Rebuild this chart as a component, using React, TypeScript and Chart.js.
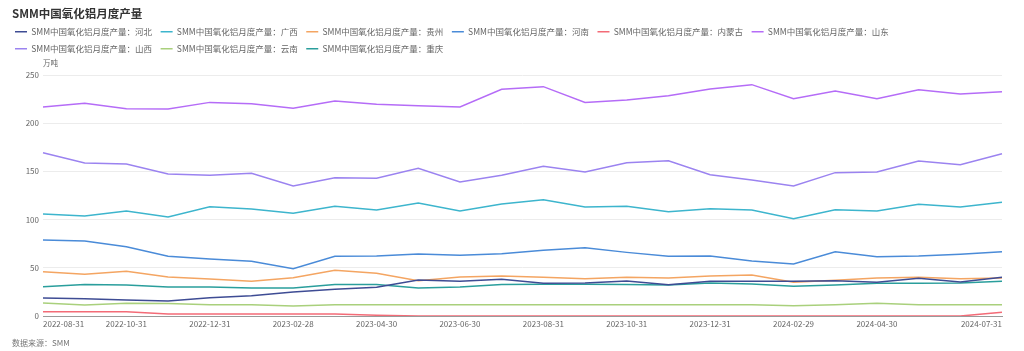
import React, { useEffect, useRef } from 'react';
import { Chart, registerables } from 'chart.js';

Chart.register(...registerables);

const FONT = "'Noto Sans CJK SC', 'Noto Sans', sans-serif";

const TITLE = 'SMM中国氧化铝月度产量';
const UNIT = '万吨';
const SOURCE = '数据来源：SMM';

const dates = [
  '2022-08-31', '2022-09-30', '2022-10-31', '2022-11-30', '2022-12-31', '2023-01-31',
  '2023-02-28', '2023-03-31', '2023-04-30', '2023-05-31', '2023-06-30', '2023-07-31',
  '2023-08-31', '2023-09-30', '2023-10-31', '2023-11-30', '2023-12-31', '2024-01-31',
  '2024-02-29', '2024-03-31', '2024-04-30', '2024-05-31', '2024-06-30', '2024-07-31',
];

const shownTickIndexes = [0, 2, 4, 6, 8, 10, 12, 14, 16, 18, 20, 23];

const yTicks = { min: 0, max: 250, step: 50 };

const hebei = [18.7, 18.0, 16.6, 15.6, 19.0, 21.1, 24.9, 27.7, 29.8, 37.3, 36.0, 38.0, 33.9, 34.2, 36.3, 32.5, 36.0, 36.0, 36.0, 36.6, 34.9, 39.1, 35.3, 40.1];
const guangxi = [105.8, 103.7, 108.9, 102.7, 113.4, 111.0, 106.5, 113.8, 110.0, 117.2, 108.9, 116.2, 120.6, 113.1, 113.8, 108.2, 111.3, 110.0, 100.9, 110.3, 108.9, 115.9, 113.1, 117.9];
const guizhou = [46.0, 43.2, 46.3, 40.5, 38.4, 36.0, 39.7, 47.4, 44.3, 36.6, 40.5, 41.5, 40.1, 38.7, 40.1, 39.4, 41.5, 42.5, 34.9, 37.0, 39.4, 40.1, 38.7, 39.4];
const henan = [78.8, 77.8, 71.9, 61.9, 59.1, 56.7, 49.1, 61.9, 62.2, 64.3, 62.9, 64.6, 68.1, 70.9, 66.0, 61.9, 62.2, 57.0, 53.9, 66.7, 61.5, 62.2, 64.0, 66.7];
const neimenggu = [4.5, 4.5, 4.3, 2.1, 2.1, 2.1, 2.1, 2.1, 0.8, 0, 0, 0, 0, 0, 0, 0, 0, 0, 0, 0, 0, 0, 0, 3.8];
const shandong = [216.8, 220.6, 215.0, 214.7, 221.6, 220.2, 215.4, 223.0, 219.6, 218.2, 216.8, 235.1, 237.9, 221.6, 224.0, 228.5, 235.5, 240.0, 225.4, 233.4, 225.4, 234.8, 230.3, 232.7];
const shanxi = [169.4, 158.7, 157.7, 147.3, 145.9, 148.0, 134.8, 143.5, 142.8, 153.2, 139.0, 145.9, 155.3, 149.4, 159.0, 161.1, 146.6, 141.1, 134.8, 148.7, 149.4, 160.8, 157.0, 168.4];
const yunnan = [13.5, 11.4, 13.1, 13.0, 11.7, 11.7, 10.4, 11.7, 11.7, 11.7, 11.7, 11.7, 11.7, 11.7, 11.7, 11.7, 11.7, 11.7, 10.7, 11.7, 13.1, 11.7, 11.7, 11.7];
const chongqing = [30.4, 32.8, 32.2, 30.1, 30.1, 29.0, 29.0, 32.8, 32.8, 29.0, 30.1, 32.8, 33.0, 33.0, 32.8, 32.2, 34.2, 33.2, 30.8, 32.2, 33.9, 33.9, 34.2, 36.0];

const seriesNames = [
  'SMM中国氧化铝月度产量：河北',
  'SMM中国氧化铝月度产量：广西',
  'SMM中国氧化铝月度产量：贵州',
  'SMM中国氧化铝月度产量：河南',
  'SMM中国氧化铝月度产量：内蒙古',
  'SMM中国氧化铝月度产量：山东',
  'SMM中国氧化铝月度产量：山西',
  'SMM中国氧化铝月度产量：云南',
  'SMM中国氧化铝月度产量：重庆',
];
const seriesValues = [hebei, guangxi, guizhou, henan, neimenggu, shandong, shanxi, yunnan, chongqing];
const seriesColors = ['#3e4c94', '#3db5cd', '#f4a562', '#4a8bd8', '#f36b77', '#b56cf7', '#9b83f0', '#a9d07c', '#2a9e9c'];

const overlayText = {
  id: 'overlayText',
  afterDraw(chart: any) {
    const ctx = chart.ctx;
    ctx.save();
    ctx.textBaseline = 'middle';
    ctx.textAlign = 'left';
    ctx.fillStyle = '#333333';
    ctx.font = `bold 11.5px ${FONT}`;
    ctx.fillText(TITLE, 12, 14);
    ctx.fillStyle = '#666666';
    ctx.font = `7.5px ${FONT}`;
    ctx.fillText(UNIT, chart.chartArea.left, 63);
    ctx.fillStyle = '#777777';
    ctx.font = `8px ${FONT}`;
    ctx.fillText(SOURCE, 12, 343);
    ctx.restore();
  },
};

const legendSpacer = {
  id: 'legendSpacer',
  beforeInit(chart: any) {
    const legend = chart.legend;
    if (!legend) return;
    const orig = legend.fit;
    legend.fit = function () {
      orig.call(this);
      this.height = 56;
    };
  },
};

export default function App() {
  const ref = useRef<HTMLCanvasElement | null>(null);

  useEffect(() => {
    if (!ref.current) return;
    const chart = new Chart(ref.current, {
      type: 'line',
      data: {
        labels: dates,
        datasets: seriesNames.map((name, i) => ({
          label: name,
          data: seriesValues[i],
          borderColor: seriesColors[i],
          backgroundColor: seriesColors[i],
          borderWidth: 1.5,
          pointRadius: 0,
          pointHoverRadius: 0,
          tension: 0,
          fill: false,
        })),
      },
      options: {
        responsive: true,
        maintainAspectRatio: false,
        animation: false,
        layout: { padding: { left: 6.5, right: 22, top: 19, bottom: 16 } },
        plugins: {
          title: { display: false },
          tooltip: { enabled: false },
          legend: {
            display: true,
            position: 'top',
            align: 'start',
            labels: {
              usePointStyle: true,
              pointStyle: 'line',
              pointStyleWidth: 12,
              padding: 8.5,
              color: '#666666',
              font: { size: 8.5, family: FONT },
            },
          },
        },
        scales: {
          x: {
            type: 'category',
            offset: false,
            grid: { display: true, drawOnChartArea: false, drawTicks: false },
            border: { display: true, color: '#9a9a9a', width: 1 },
            ticks: {
              autoSkip: false,
              maxRotation: 0,
              minRotation: 0,
              align: 'inner',
              padding: 3,
              color: '#666666',
              font: { size: 8, family: FONT },
              callback: (_v: any, i: number) => (shownTickIndexes.includes(i) ? dates[i] : ''),
            },
            afterFit: (s: any) => {
              s.height = 19;
            },
          },
          y: {
            min: yTicks.min,
            max: yTicks.max,
            ticks: {
              stepSize: yTicks.step,
              padding: 4,
              color: '#666666',
              font: { size: 8, family: FONT },
            },
            grid: {
              drawTicks: false,
              lineWidth: 1,
              color: (c: any) => (c.tick && c.tick.value === 0 ? 'rgba(0,0,0,0)' : '#ececec'),
            },
            border: { display: false },
            afterFit: (s: any) => {
              s.width = 36.5;
            },
          },
        },
      } as any,
      plugins: [legendSpacer, overlayText],
    });
    return () => chart.destroy();
  }, []);

  return (
    <div style={{ position: 'absolute', left: 0, top: 0, width: 1024, height: 351, background: '#ffffff' }}>
      <canvas ref={ref} />
    </div>
  );
}
